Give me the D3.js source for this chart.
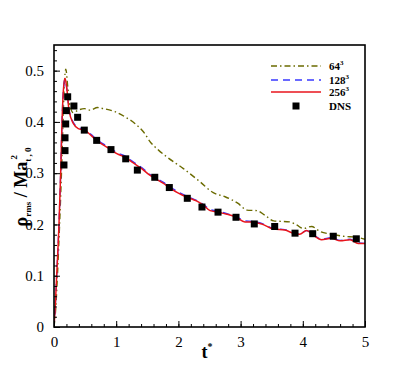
<!DOCTYPE html>
<html><head><meta charset="utf-8">
<script src="https://cdn.jsdelivr.net/npm/d3@7"></script>
<style>body{margin:0;background:#fff}svg{display:block}text{font-family:"Liberation Serif","Times New Roman",serif}</style>
</head><body>
<script>
// ---- data ----
const xTicks = [0,1,2,3,4,5];
const yTicks = [0,0.1,0.2,0.3,0.4,0.5];
const seriesNames = ["64", "128", "256", "DNS"];

const t64   = [0,0.03,0.055,0.09,0.12,0.145,0.165,0.19,0.22,0.26,0.31,0.39,0.487,0.58,0.70,0.79,0.98,1.14,1.30,1.46,1.54,1.68,1.81,2.08,2.35,2.56,2.75,2.96,3.10,3.26,3.39,3.53,3.79,3.90,4.01,4.14,4.28,4.46,4.65,4.87,5.0];
const rho64 = [0,0.04,0.10,0.20,0.30,0.40,0.47,0.503,0.47,0.43,0.418,0.423,0.426,0.423,0.428,0.426,0.420,0.410,0.397,0.377,0.362,0.345,0.332,0.309,0.283,0.262,0.254,0.241,0.228,0.227,0.218,0.207,0.205,0.199,0.192,0.196,0.186,0.181,0.177,0.175,0.171];

const t128   = [0,0.02,0.043,0.08,0.107,0.129,0.15,0.177,0.204,0.241,0.31,0.39,0.487,0.686,0.79,0.916,1.01,1.153,1.25,1.41,1.54,1.62,1.76,1.854,2.0,2.14,2.29,2.40,2.51,2.64,2.78,2.93,3.07,3.18,3.34,3.53,3.71,3.85,3.95,4.06,4.17,4.30,4.46,4.60,4.76,4.89,5.0];
const rho128 = [0,0.04,0.10,0.20,0.30,0.40,0.46,0.482,0.466,0.425,0.399,0.389,0.386,0.366,0.357,0.348,0.340,0.333,0.324,0.311,0.298,0.292,0.282,0.274,0.263,0.255,0.247,0.239,0.229,0.226,0.221,0.215,0.207,0.206,0.202,0.192,0.190,0.184,0.182,0.188,0.180,0.171,0.174,0.169,0.171,0.164,0.163];

const t256   = [0,0.02,0.043,0.08,0.107,0.129,0.15,0.177,0.204,0.241,0.31,0.39,0.487,0.686,0.79,0.916,1.01,1.153,1.25,1.41,1.54,1.62,1.76,1.854,2.0,2.14,2.29,2.40,2.51,2.64,2.78,2.93,3.07,3.18,3.34,3.53,3.71,3.85,3.95,4.06,4.17,4.30,4.46,4.60,4.76,4.89,5.0];
const rho256 = [0,0.04,0.10,0.20,0.30,0.40,0.46,0.485,0.468,0.423,0.397,0.387,0.384,0.364,0.355,0.346,0.338,0.331,0.322,0.309,0.296,0.290,0.280,0.272,0.261,0.253,0.246,0.238,0.227,0.224,0.220,0.214,0.205,0.205,0.201,0.191,0.189,0.183,0.181,0.188,0.179,0.170,0.173,0.168,0.170,0.163,0.163];

const tDNS   = [0.16,0.177,0.177,0.188,0.198,0.22,0.32,0.38,0.487,0.686,0.916,1.153,1.34,1.62,1.854,2.143,2.379,2.637,2.926,3.22,3.548,3.875,4.159,4.49,4.86];
const rhoDNS = [0.316,0.344,0.369,0.396,0.422,0.449,0.431,0.409,0.384,0.364,0.346,0.328,0.306,0.292,0.272,0.251,0.234,0.224,0.214,0.201,0.196,0.183,0.182,0.177,0.172];

// ---- layout ----
const W = 415, H = 369;
const m = {left:54, top:45, right:50, bottom:42};
const svg = d3.select("body").append("svg").attr("width",W).attr("height",H);
const x = d3.scaleLinear().domain([0,5]).range([m.left, W-m.right]);
const y = d3.scaleLinear().domain([0,0.55]).range([H-m.bottom, m.top]);
const x0 = m.left, x1 = W-m.right, y0 = H-m.bottom, y1 = m.top;

svg.append("clipPath").attr("id","c").append("rect")
  .attr("x",x0).attr("y",y1).attr("width",x1-x0).attr("height",y0-y1);

const line = (tt, vv) => d3.line().x((d,i)=>x(tt[i])).y((d,i)=>y(vv[i])).curve(d3.curveMonotoneX)(tt);

const plot = svg.append("g").attr("clip-path","url(#c)");
plot.append("path").attr("d", line(t64,rho64)).attr("fill","none").attr("stroke","#6b6b00").attr("stroke-width",1.4).attr("stroke-dasharray","6,3,1.5,3");
plot.append("path").attr("d", line(t128,rho128)).attr("fill","none").attr("stroke","#3838ff").attr("stroke-width",1.4).attr("stroke-dasharray","7,5");
plot.append("path").attr("d", line(t256,rho256)).attr("fill","none").attr("stroke","#e8141c").attr("stroke-width",1.5);
plot.selectAll("rect.dns").data(tDNS).enter().append("rect")
  .attr("x",(d)=>x(d)-3.5).attr("y",(d,i)=>y(rhoDNS[i])-3.5).attr("width",7).attr("height",7).attr("fill","#000");

// axes: inward ticks
const xAxis = d3.axisBottom(x).tickValues(xTicks).tickSize(-6).tickPadding(9).tickFormat(d3.format("d"));
const xMinor = d3.axisBottom(x).tickValues(d3.range(0,5.001,0.2)).tickSize(-3).tickFormat("");
const yAxis = d3.axisLeft(y).tickValues(yTicks).tickSize(-6).tickPadding(10).tickFormat(d=> d===0?"0":d3.format(".1f")(d));
const yMinor = d3.axisLeft(y).tickValues(d3.range(0,0.5501,0.02)).tickSize(-3).tickFormat("");

function style(sel){ sel.attr("font-family",null); sel.select(".domain").remove(); sel.selectAll("line").attr("stroke","#000").attr("stroke-width",1); sel.selectAll("text").attr("font-size",15).attr("fill","#000").attr("font-family","Liberation Serif"); }
svg.append("g").attr("transform",`translate(0,${y0})`).call(xMinor).call(style);
svg.append("g").attr("transform",`translate(0,${y0})`).call(xAxis).call(style);
svg.append("g").attr("transform",`translate(${x0},0)`).call(yMinor).call(style);
svg.append("g").attr("transform",`translate(${x0},0)`).call(yAxis).call(style);

svg.append("rect").attr("x",x0).attr("y",y1).attr("width",x1-x0).attr("height",y0-y1)
  .attr("fill","none").attr("stroke","#000").attr("stroke-width",1.6);

// axis titles
const xt = svg.append("text").attr("x",207).attr("y",358).attr("text-anchor","middle")
  .attr("font-size",18).attr("font-weight","bold");
xt.append("tspan").text("t");
xt.append("tspan").attr("font-size",10).attr("dy",-8).text("*");

const yt = svg.append("text").attr("transform",`translate(27,187) rotate(-90)`).attr("text-anchor","middle")
  .attr("font-size",18).attr("font-weight","bold");
yt.append("tspan").text("ρ");
yt.append("tspan").attr("font-size",9).attr("dy",4).text("rms");
yt.append("tspan").attr("dy",-4).text(" / Ma");
yt.append("tspan").attr("font-size",9).attr("dy",4).text("t , 0");
yt.append("tspan").attr("font-size",9).attr("dx",-12).attr("dy",-14).text("2");

// legend
const leg = svg.append("g");
const lx0 = 271, lx1 = 321, tx = 329;
const legY = [66, 80, 92, 106];
leg.append("line").attr("x1",lx0).attr("x2",lx1).attr("y1",legY[0]).attr("y2",legY[0]).attr("stroke","#6b6b00").attr("stroke-width",1.4).attr("stroke-dasharray","6,3,1.5,3");
leg.append("line").attr("x1",lx0).attr("x2",lx1).attr("y1",legY[1]).attr("y2",legY[1]).attr("stroke","#3838ff").attr("stroke-width",1.4).attr("stroke-dasharray","7,5");
leg.append("line").attr("x1",lx0).attr("x2",lx1).attr("y1",legY[2]).attr("y2",legY[2]).attr("stroke","#e8141c").attr("stroke-width",1.5);
leg.append("rect").attr("x",(lx0+lx1)/2-3.5).attr("y",legY[3]-3.5).attr("width",7).attr("height",7).attr("fill","#000");
seriesNames.forEach((n,i)=>{
  const t = leg.append("text").attr("x",tx).attr("y",legY[i]+4).attr("font-size",11).attr("font-weight","bold");
  t.append("tspan").text(n);
  if(n!=="DNS") t.append("tspan").attr("font-size",7).attr("dy",-5).text("3");
});
</script>
</body></html>
